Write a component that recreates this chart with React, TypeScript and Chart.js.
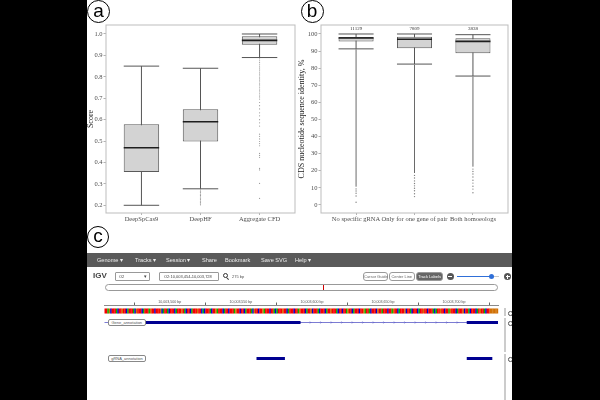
import React, { useEffect, useRef } from 'react';
import { Chart, registerables } from 'chart.js';

Chart.register(...registerables);

const SERIF = '"Liberation Serif", "DejaVu Serif", serif';
const SANS = '"Liberation Sans", Arial, sans-serif';

// ---------- Panel a ----------
const CATEGORIES_A = ['DeepSpCas9', 'DeepHF', 'Aggregate CFD'];
const WHISKER_LOW_A = [0.2, 0.277, 0.89];
const Q1_A = [0.356, 0.498, 0.95];
const MEDIAN_A = [0.469, 0.59, 0.97];
const Q3_A = [0.578, 0.649, 0.99];
const WHISKER_HIGH_A = [0.85, 0.84, 1.0];
const OUTLIERS_A_DEEPSPCAS9: number[] = [];
const OUTLIERS_A_DEEPHF = [0.272, 0.266, 0.259, 0.252, 0.246, 0.239, 0.233, 0.226, 0.219, 0.213, 0.207, 0.202];
const OUTLIERS_A_CFD = [
  0.884, 0.875, 0.866, 0.856, 0.846, 0.837, 0.828, 0.818, 0.809, 0.799, 0.79, 0.781, 0.771,
  0.762, 0.752, 0.743, 0.734, 0.724, 0.715, 0.706, 0.696, 0.68, 0.665, 0.65, 0.632, 0.618,
  0.6, 0.585, 0.57, 0.532, 0.522, 0.51, 0.498, 0.488, 0.478, 0.442, 0.433, 0.424, 0.372,
  0.365, 0.302, 0.232,
];
const Y_TICKS_A = [0.2, 0.3, 0.4, 0.5, 0.6, 0.7, 0.8, 0.9, 1.0];

// ---------- Panel b ----------
const CATEGORIES_B = ['No specific gRNA', 'Only for one gene of pair', 'Both homoeologs'];
const COUNTS_B = [11129, 7809, 3838];
const WHISKER_LOW_B = [91.3, 82.4, 75.4];
const Q1_B = [95.6, 91.6, 88.7];
const MEDIAN_B = [97.7, 96.9, 95.7];
const Q3_B = [98.3, 98.4, 97.5];
const WHISKER_HIGH_B = [100, 100, 99.6];
// dense outlier bands (appear as continuous lines): [low, high]
const OUTLIER_BAND_B = [[10.7, 91.0], [18.7, 82.0], [22.4, 75.0]];
const OUTLIERS_B_NONE = [9.4, 8.2, 6.9, 5.3, 1.6];
const OUTLIERS_B_ONE = [17.3, 15.8, 14.1, 12.6, 11.2, 9.8, 8.3, 6.6, 4.9];
const OUTLIERS_B_BOTH = [21.0, 19.6, 18.1, 16.4, 14.5, 12.8, 11.0, 9.3, 7.2];
const Y_TICKS_B = [0, 10, 20, 30, 40, 50, 60, 70, 80, 90, 100];

// ---------- Panel c (IGV) ----------
const VIEW_START = 10003454;
const VIEW_END = 10003731;
const RULER_LABELS = [10003500, 10003550, 10003600, 10003650, 10003700];
const RULER_MINOR = [10003475, 10003525, 10003575, 10003625, 10003675, 10003725];
const SEQ_START = 10003454;
const SEQUENCE =
  'TTAGCTTTACTTGTTCATTTACGTT' +
  'TCATTTAGTTCTTTGCATTACTTTC' +
  'ATTTGTACTTCATTTGTTCACTTTA' +
  'CTTGATTTCATTCTTTAGTTCTTCA' +
  'TTTACGTTCTTGATTTCTTACATTT' +
  'GTTCATTTCTTAGTTTCATTGCTTT' +
  'ACTTTCATTGTTTACTTCTTAGTTC' +
  'ATTTCTTGATTACTTTCGTTATTTC' +
  'TTAGTTCATTTGCTTACTTTCATTG' +
  'TTCTTTACATTGTTCTTAGTTTCAT' +
  'TTGCTTACTTTCATGTTACTTGGGG' +
  'GG';
const GENE_SPAN = [10003454, 10003731];
const GENE_EXONS = [[10003482, 10003592], [10003709, 10003731]];
const GRNA_FEATURES = [[10003561, 10003581], [10003709, 10003727]];
const MENU_ITEMS = ['Genome \u25BE', 'Tracks \u25BE', 'Session \u25BE', 'Share', 'Bookmark', 'Save SVG', 'Help \u25BE'];

const BASE_COLORS: Record<string, string> = {
  A: 'rgb(0,185,0)',
  C: 'rgb(0,0,215)',
  G: 'rgb(209,113,5)',
  T: 'rgb(245,0,0)',
};

type BoxSpec = {
  cats: string[];
  lo: number[];
  q1: number[];
  med: number[];
  q3: number[];
  hi: number[];
  outliers: number[][];
  bands?: number[][];
  counts?: number[];
  yMin: number;
  yMax: number;
  yTicks: number[];
  fmt: (v: number) => string;
  title: string;
  yAxisWidth: number;
  padRight: number;
  outlierRadius: number;
  outlierColor: string;
};

function makeBoxChart(canvas: HTMLCanvasElement, s: BoxSpec) {
  const boxParts = {
    id: 'boxParts',
    beforeDatasetsDraw(chart: any) {
      const { ctx } = chart;
      const x = chart.scales.x;
      const y = chart.scales.y;
      const meta = chart.getDatasetMeta(0);
      ctx.save();
      if (s.bands) {
        ctx.strokeStyle = '#6a6a6a';
        ctx.lineWidth = 1;
        s.bands.forEach((b, i) => {
          const cx = x.getPixelForValue(i + 1);
          ctx.beginPath();
          ctx.moveTo(cx, y.getPixelForValue(b[0]));
          ctx.lineTo(cx, y.getPixelForValue(b[1]));
          ctx.stroke();
        });
      }
      ctx.strokeStyle = '#555';
      ctx.lineWidth = 1;
      s.cats.forEach((_, i) => {
        const cx = x.getPixelForValue(i + 1);
        const half = meta.data[i].width / 2;
        const yl = y.getPixelForValue(s.lo[i]);
        const yh = y.getPixelForValue(s.hi[i]);
        ctx.beginPath();
        ctx.moveTo(cx, yh);
        ctx.lineTo(cx, yl);
        ctx.moveTo(cx - half, yh);
        ctx.lineTo(cx + half, yh);
        ctx.moveTo(cx - half, yl);
        ctx.lineTo(cx + half, yl);
        ctx.stroke();
      });
      ctx.restore();
    },
    afterDatasetsDraw(chart: any) {
      const { ctx, chartArea } = chart;
      const x = chart.scales.x;
      const y = chart.scales.y;
      const meta = chart.getDatasetMeta(0);
      ctx.save();
      ctx.strokeStyle = '#1e1e1e';
      ctx.lineWidth = 1.6;
      s.cats.forEach((_, i) => {
        const cx = x.getPixelForValue(i + 1);
        const half = meta.data[i].width / 2;
        const ym = y.getPixelForValue(s.med[i]);
        ctx.beginPath();
        ctx.moveTo(cx - half, ym);
        ctx.lineTo(cx + half, ym);
        ctx.stroke();
      });
      if (s.counts) {
        ctx.fillStyle = '#333';
        ctx.font = `5px ${SERIF}`;
        ctx.textAlign = 'center';
        ctx.textBaseline = 'middle';
        s.counts.forEach((c, i) => {
          ctx.fillText(String(c), x.getPixelForValue(i + 1), chartArea.top + 4);
        });
      }
      ctx.strokeStyle = '#bdbdbd';
      ctx.lineWidth = 1;
      ctx.strokeRect(chartArea.left, chartArea.top, chartArea.right - chartArea.left, chartArea.bottom - chartArea.top);
      ctx.restore();
    },
  };

  return new Chart(canvas, {
    type: 'bar',
    data: {
      datasets: [
        {
          type: 'bar',
          data: s.cats.map((_, i) => ({ x: i + 1, y: [s.q1[i], s.q3[i]] })),
          backgroundColor: '#d3d3d3',
          borderColor: '#5a5a5a',
          borderWidth: 1,
          borderSkipped: false,
          barPercentage: 0.6,
          categoryPercentage: 1,
          order: 2,
        } as any,
        ...s.outliers.map((vals, i) => ({
          type: 'scatter',
          data: vals.map((v) => ({ x: i + 1, y: v })),
          pointRadius: s.outlierRadius,
          pointBackgroundColor: s.outlierColor,
          pointBorderWidth: 0,
          order: 1,
        } as any)),
      ],
    },
    options: {
      animation: false,
      responsive: false,
      events: [],
      layout: { padding: { top: 5, right: s.padRight, left: 0, bottom: 0 } },
      plugins: { legend: { display: false }, tooltip: { enabled: false } },
      scales: {
        x: {
          type: 'linear',
          min: 0.4,
          max: 3.6,
          offset: false,
          afterBuildTicks: (sc: any) => {
            sc.ticks = s.cats.map((_, i) => ({ value: i + 1 }));
          },
          afterFit: (sc: any) => {
            sc.height = 17;
          },
          ticks: {
            callback: (v: any) => s.cats[Math.round(Number(v)) - 1],
            font: { family: SERIF, size: 6.5 },
            color: '#4d4d4d',
            padding: 0,
            autoSkip: false,
            maxRotation: 0,
            minRotation: 0,
          },
          grid: { display: true, offset: false, drawOnChartArea: false, drawTicks: true, tickLength: 2, color: '#b3b3b3' },
          border: { display: false },
        },
        y: {
          type: 'linear',
          min: s.yMin,
          max: s.yMax,
          beginAtZero: false,
          afterBuildTicks: (sc: any) => {
            sc.ticks = s.yTicks.map((v) => ({ value: v }));
          },
          afterFit: (sc: any) => {
            sc.width = s.yAxisWidth;
          },
          ticks: {
            callback: (v: any) => s.fmt(Number(v)),
            font: { family: SERIF, size: 6.5 },
            color: '#4d4d4d',
            padding: 1,
            autoSkip: false,
          },
          grid: { display: true, drawOnChartArea: false, drawTicks: true, tickLength: 2.5, color: '#b3b3b3' },
          border: { display: false },
          title: { display: true, text: s.title, font: { family: SERIF, size: 8 }, color: '#1a1a1a', padding: 0 },
        },
      },
    } as any,
    plugins: [boxParts],
  });
}

function makeIgvChart(canvas: HTMLCanvasElement) {
  const tracks = {
    id: 'igvTracks',
    afterDraw(chart: any) {
      const { ctx, chartArea } = chart;
      const x = chart.scales.x;
      const top = chartArea.top;
      ctx.save();
      // minor ruler ticks
      ctx.strokeStyle = '#666';
      ctx.lineWidth = 1;
      ctx.beginPath();
      RULER_MINOR.forEach((v) => {
        const px = Math.round(x.getPixelForValue(v)) + 0.5;
        ctx.moveTo(px, top);
        ctx.lineTo(px, top - 2.5);
      });
      ctx.stroke();
      // sequence track
      for (let i = 0; i < SEQUENCE.length; i++) {
        const x0 = x.getPixelForValue(SEQ_START + i);
        const x1 = x.getPixelForValue(SEQ_START + i + 1);
        if (x0 >= chartArea.right) break;
        ctx.fillStyle = BASE_COLORS[SEQUENCE[i]];
        ctx.fillRect(x0, top + 3.5, Math.min(x1, chartArea.right) - x0 + 0.2, 5);
      }
      // gene annotation: thin line + strand marks
      const g0 = x.getPixelForValue(GENE_SPAN[0]);
      const g1 = x.getPixelForValue(GENE_SPAN[1]);
      ctx.strokeStyle = 'rgb(90,90,200)';
      ctx.lineWidth = 0.8;
      ctx.beginPath();
      ctx.moveTo(g0, top + 17.5);
      ctx.lineTo(g1, top + 17.5);
      for (let px = g0 + 6; px < g1; px += 10.5) {
        ctx.moveTo(px, top + 16.6);
        ctx.lineTo(px + 0.8, top + 17.5);
        ctx.lineTo(px, top + 18.4);
      }
      ctx.stroke();
      ctx.fillStyle = 'rgb(0,0,145)';
      GENE_EXONS.forEach(([a, b]) => {
        const xa = x.getPixelForValue(a);
        const xb = x.getPixelForValue(b);
        ctx.fillRect(xa, top + 16, xb - xa, 3);
      });
      // gRNA annotation
      GRNA_FEATURES.forEach(([a, b]) => {
        const xa = x.getPixelForValue(a);
        const xb = x.getPixelForValue(b);
        ctx.fillRect(xa, top + 52, xb - xa, 3);
      });
      ctx.restore();
    },
  };

  return new Chart(canvas, {
    type: 'scatter',
    data: { datasets: [] },
    options: {
      animation: false,
      responsive: false,
      events: [],
      layout: { padding: { left: 17.5, right: 14, top: 0, bottom: 0 } },
      plugins: { legend: { display: false }, tooltip: { enabled: false } },
      scales: {
        x: {
          type: 'linear',
          position: 'top',
          min: VIEW_START,
          max: VIEW_END,
          afterBuildTicks: (sc: any) => {
            sc.ticks = RULER_LABELS.map((v) => ({ value: v }));
          },
          afterFit: (sc: any) => {
            sc.height = 13;
          },
          ticks: {
            callback: (v: any) => Number(v).toLocaleString('en-US') + ' bp',
            font: { family: SANS, size: 3.6 },
            color: '#555',
            padding: 1,
            autoSkip: false,
            maxRotation: 0,
          },
          grid: { display: false, drawTicks: false, tickLength: 0 },
          border: { display: true, color: '#8a8a8a', width: 1 },
        },
        y: { display: false, min: 0, max: 1 },
      },
    } as any,
    plugins: [tracks],
  });
}

const abs = (l: number, t: number, w: number, h: number, extra: React.CSSProperties = {}): React.CSSProperties => ({
  position: 'absolute',
  left: l,
  top: t,
  width: w,
  height: h,
  boxSizing: 'border-box',
  ...extra,
});

const MENU_X = [97, 135, 166, 202, 225, 261, 295];

export default function App() {
  const refA = useRef<HTMLCanvasElement>(null);
  const refB = useRef<HTMLCanvasElement>(null);
  const refC = useRef<HTMLCanvasElement>(null);

  useEffect(() => {
    const a = makeBoxChart(refA.current!, {
      cats: CATEGORIES_A,
      lo: WHISKER_LOW_A,
      q1: Q1_A,
      med: MEDIAN_A,
      q3: Q3_A,
      hi: WHISKER_HIGH_A,
      outliers: [OUTLIERS_A_DEEPSPCAS9, OUTLIERS_A_DEEPHF, OUTLIERS_A_CFD],
      yMin: 0.164,
      yMax: 1.042,
      yTicks: Y_TICKS_A,
      fmt: (v) => v.toFixed(1),
      title: 'Score',
      yAxisWidth: 20,
      padRight: 3,
      outlierRadius: 0.6,
      outlierColor: '#9a9a9a',
    });
    const b = makeBoxChart(refB.current!, {
      cats: CATEGORIES_B,
      lo: WHISKER_LOW_B,
      q1: Q1_B,
      med: MEDIAN_B,
      q3: Q3_B,
      hi: WHISKER_HIGH_B,
      outliers: [OUTLIERS_B_NONE, OUTLIERS_B_ONE, OUTLIERS_B_BOTH],
      bands: OUTLIER_BAND_B,
      counts: COUNTS_B,
      yMin: -4.68,
      yMax: 105.26,
      yTicks: Y_TICKS_B,
      fmt: (v) => String(v),
      title: 'CDS nucleotide sequence identity, %',
      yAxisWidth: 24,
      padRight: 3,
      outlierRadius: 0.7,
      outlierColor: '#808080',
    });
    const c = makeIgvChart(refC.current!);
    return () => {
      a.destroy();
      b.destroy();
      c.destroy();
    };
  }, []);

  const circle = (l: number, t: number, size: number, lh: number, letter: string) => (
    <div
      style={abs(l, t, size, size, {
        border: '1px solid #000',
        borderRadius: '50%',
        textAlign: 'center',
        fontFamily: SANS,
        fontSize: 19,
        lineHeight: `${lh}px`,
        color: '#000',
        background: '#fff',
      })}
    >
      {letter}
    </div>
  );

  const smallBtn = (l: number, w: number, text: string, dark = false) => (
    <div
      style={abs(l, 272, w, 8.5, {
        border: '0.6px solid #999',
        borderRadius: 3,
        background: dark ? '#666' : '#fff',
        color: dark ? '#fff' : '#666',
        fontFamily: SANS,
        fontSize: 4,
        lineHeight: '7.5px',
        textAlign: 'center',
        whiteSpace: 'nowrap',
      })}
    >
      {text}
    </div>
  );

  const trackLabel = (l: number, t: number, w: number, text: string) => (
    <div
      style={abs(l, t, w, 7, {
        border: '0.6px solid #888',
        borderRadius: 2,
        background: '#fff',
        color: '#555',
        fontFamily: SANS,
        fontSize: 4,
        lineHeight: '6px',
        textAlign: 'center',
        whiteSpace: 'nowrap',
      })}
    >
      {text}
    </div>
  );

  const gear = (t: number) => (
    <div style={abs(508, t, 4.5, 4.5, { border: '1.3px solid #555', borderRadius: '50%' })} />
  );

  return (
    <div style={{ position: 'fixed', left: 0, top: 0, width: 600, height: 400, background: '#000', overflow: 'hidden' }}>
      <div style={abs(87, 0, 425, 400, { background: '#fff' })} />
      <canvas ref={refA} width={213} height={210} style={abs(86, 20, 213, 210)} />
      <canvas ref={refB} width={215} height={210} style={abs(297, 20, 215, 210)} />
      {circle(87, -0.5, 23, 19, 'a')}
      {circle(300.5, -0.5, 23, 19, 'b')}
      {circle(87, 226, 22, 18, 'c')}

      {/* IGV menu bar */}
      <div style={abs(87, 253, 425, 14, { background: '#5a5a5a' })} />
      {MENU_ITEMS.map((m, i) => (
        <div
          key={m}
          style={abs(MENU_X[i], 253, 40, 14, {
            color: '#eeeeee',
            fontFamily: SANS,
            fontSize: 5.6,
            lineHeight: '14px',
            whiteSpace: 'nowrap',
          })}
        >
          {m}
        </div>
      ))}

      {/* IGV control row */}
      <div style={abs(93, 270, 20, 12, { fontFamily: SANS, fontWeight: 'bold', fontSize: 8, lineHeight: '12px', color: '#444' })}>IGV</div>
      <div style={abs(115, 272, 35, 9, { border: '0.6px solid #999', borderRadius: 1, background: '#fff' })}>
        <span style={{ position: 'absolute', left: 3, top: 0, fontFamily: SANS, fontSize: 4, lineHeight: '8px', color: '#444' }}>O2</span>
        <span style={{ position: 'absolute', right: 2, top: 0, fontFamily: SANS, fontSize: 4.5, lineHeight: '8px', color: '#444' }}>{'\u25BE'}</span>
      </div>
      <div style={abs(159, 272, 60, 9, { border: '0.6px solid #999', borderRadius: 1, background: '#fff' })}>
        <span style={{ position: 'absolute', left: 4, top: 0, fontFamily: SANS, fontSize: 4, lineHeight: '8px', color: '#444', whiteSpace: 'nowrap' }}>
          O2:10,003,454-10,003,728
        </span>
      </div>
      <div style={abs(222.5, 273, 5, 5, { border: '1.2px solid #333', borderRadius: '50%' })} />
      <div style={abs(226.2, 278.3, 3, 1.3, { background: '#333', transform: 'rotate(45deg)' })} />
      <div style={abs(232, 272, 20, 9, { fontFamily: SANS, fontSize: 4, lineHeight: '9px', color: '#555', whiteSpace: 'nowrap' })}>275 bp</div>

      {smallBtn(363, 25, 'Cursor Guide')}
      {smallBtn(389, 25.5, 'Center Line')}
      {smallBtn(416, 27, 'Track Labels', true)}
      <div style={abs(446.5, 273, 7, 7, { background: '#555', borderRadius: '50%' })} />
      <div style={abs(448, 276, 4, 1, { background: '#fff' })} />
      <div style={abs(457, 275.8, 34, 1.4, { background: '#2f6fd8' })} />
      <div style={abs(493, 276, 6, 1, { background: '#c8c8c8' })} />
      <div style={abs(488.5, 274, 5, 5, { background: '#2f6fd8', borderRadius: '50%' })} />
      <div style={abs(504, 273, 7, 7, { background: '#555', borderRadius: '50%' })} />
      <div style={abs(505.5, 276, 4, 1, { background: '#fff' })} />
      <div style={abs(507, 274.5, 1, 4, { background: '#fff' })} />

      {/* ideogram */}
      <div style={abs(105, 284, 393, 6.5, { border: '1px solid #999', borderRadius: 4, background: '#fff' })} />
      <div style={abs(322.5, 284.5, 1, 5.5, { background: '#d00000' })} />

      {/* tracks */}
      <canvas ref={refC} width={425} height={108} style={abs(87, 292, 425, 108)} />
      {trackLabel(108, 318.5, 37.5, 'Gene_annotation')}
      {trackLabel(108, 355, 38, 'gRNA_annotation')}
      <div style={abs(503.5, 308, 2.5, 8, { background: '#cccccc' })} />
      <div style={abs(503.5, 318, 2.5, 34, { background: '#cccccc' })} />
      <div style={abs(503.5, 354, 2.5, 46, { background: '#cccccc' })} />
      {gear(311)}
      {gear(321)}
      {gear(357)}

      <div style={abs(0, 0, 87, 400, { background: '#000' })} />
      <div style={abs(512, 0, 88, 400, { background: '#000' })} />
    </div>
  );
}
